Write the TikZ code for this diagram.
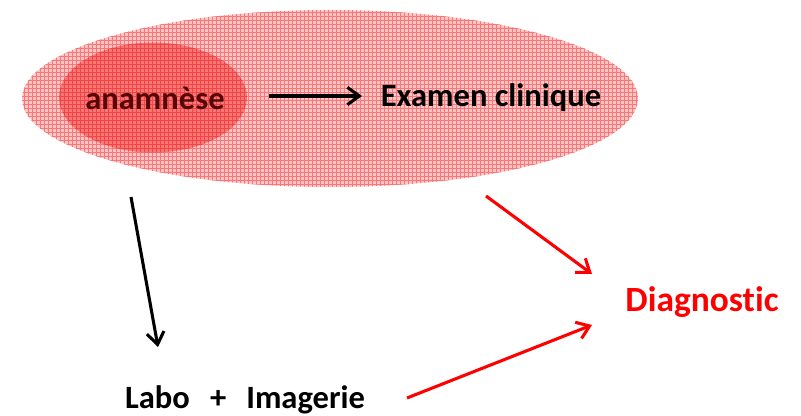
\documentclass[tikz,border=0pt]{standalone}
\usepackage{fontspec}
\setmainfont[Ligatures={NoCommon}]{Carlito}
\usetikzlibrary{arrows.meta,patterns}
\definecolor{bigfill}{RGB}{252,198,198}
\definecolor{biggrid}{RGB}{246,120,120}
\definecolor{smallfill}{RGB}{248,118,118}
\definecolor{smallgrid}{RGB}{238,70,70}
\definecolor{anatext}{RGB}{85,6,6}
\definecolor{diagred}{RGB}{255,0,0}
\tikzset{
  lbl/.style={font=\bfseries\fontsize{24.4}{28}\selectfont, inner sep=0pt},
  biglbl/.style={font=\bfseries\fontsize{26.6}{30}\selectfont, inner sep=0pt},
  arr/.style={line width=2.3pt, -{Straight Barb[length=9pt,width=13pt,line width=2.3pt]}},
}
\begin{document}
\begin{tikzpicture}[x=0.75pt,y=-0.75pt]
\useasboundingbox (0,0) rectangle (801,416);
\fill[bigfill] (330,98.5) ellipse [x radius=308, y radius=88.5];
\fill[pattern=grid, pattern color=biggrid] (330,98.5) ellipse [x radius=308, y radius=88.5];
\fill[smallfill] (153,97.5) ellipse [x radius=94, y radius=55];
\fill[pattern=grid, pattern color=smallgrid] (153,97.5) ellipse [x radius=94, y radius=55];
\node[lbl, text=anatext] (ana) at (155,98) {anamnèse};
\node[lbl] (exam) at (491,98) {Examen clinique};
\node[biglbl, text=diagred] (diag) at (702,302) {Diagnostic};
\node[lbl] (labo) at (245,400) {Labo \ \,+ \ \,Imagerie};
\coordinate (a1) at (269,96);
\coordinate (a2) at (362,96);
\coordinate (b1) at (131,197);
\coordinate (b2) at (158,347);
\coordinate (c1) at (486,196);
\coordinate (c2) at (592,274);
\coordinate (d1) at (407,398);
\coordinate (d2) at (592,325);
\draw[arr] (a1) -- (a2);
\draw[arr] (b1) -- (b2);
\draw[arr, draw=diagred] (c1) -- (c2);
\draw[arr, draw=diagred] (d1) -- (d2);
\end{tikzpicture}
\end{document}
